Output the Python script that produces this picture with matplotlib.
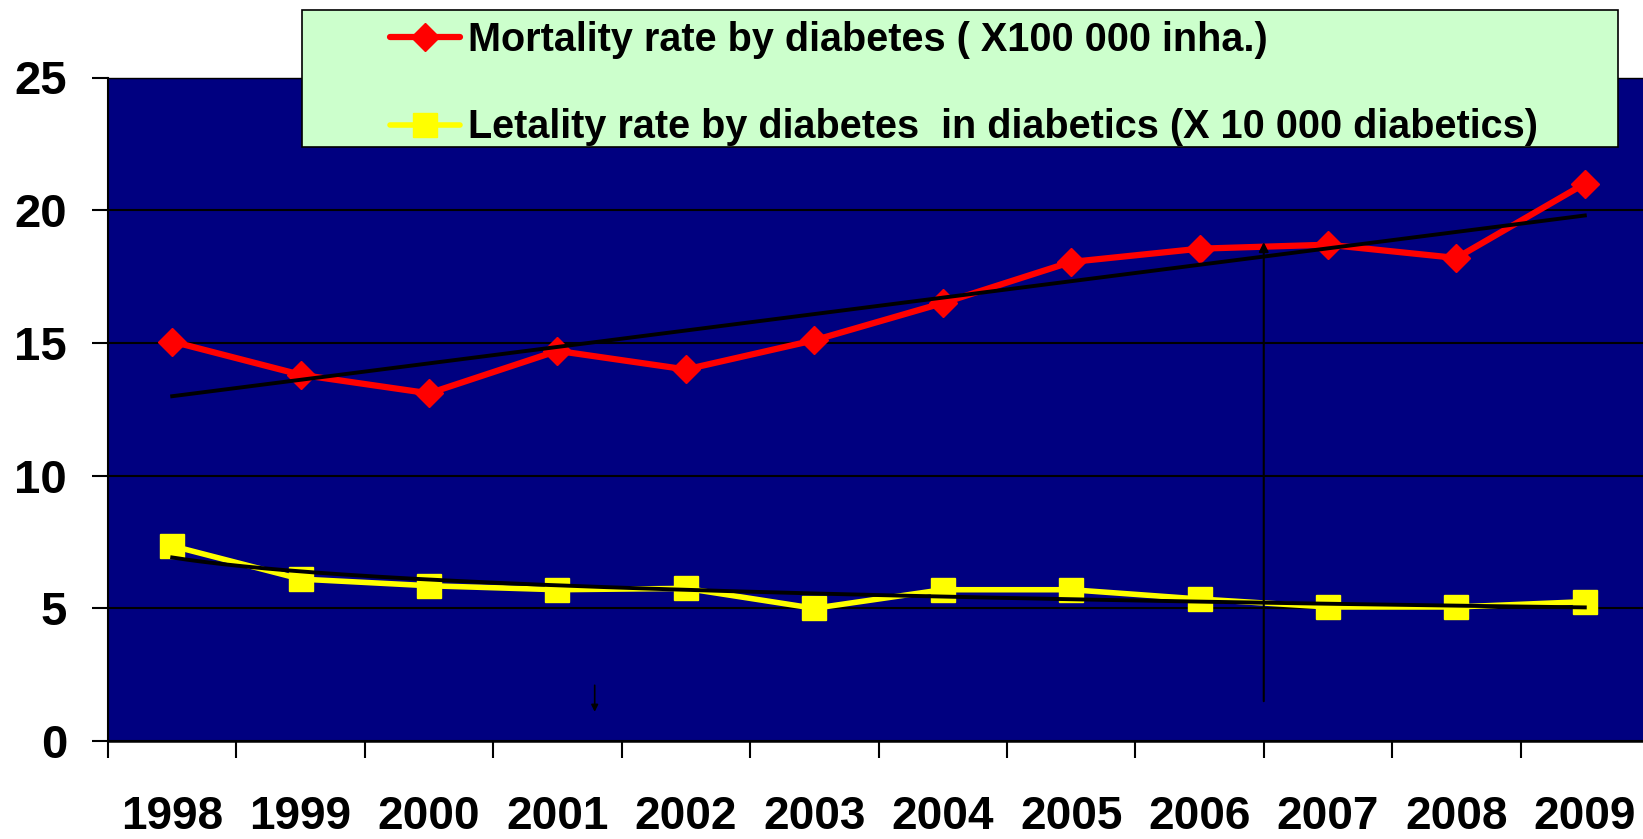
import numpy as np
import matplotlib
matplotlib.use("Agg")
import matplotlib.pyplot as plt
from matplotlib.patches import Rectangle

plt.rcParams['font.family'] = ['Liberation Sans', 'DejaVu Sans']
plt.rcParams['font.weight'] = 'bold'

years = ["1998", "1999", "2000", "2001", "2002", "2003",
         "2004", "2005", "2006", "2007", "2008", "2009"]
mortality = [15.05, 13.8, 13.1, 14.7, 14.0, 15.1, 16.5, 18.05, 18.55, 18.7, 18.2, 21.0]
letality = [7.35, 6.1, 5.85, 5.7, 5.75, 5.0, 5.7, 5.7, 5.35, 5.05, 5.05, 5.25]
label_mort = "Mortality rate by diabetes ( X100 000 inha.)"
label_let = "Letality rate by diabetes  in diabetics (X 10 000 diabetics)"

W, H = 1643, 839
fig = plt.figure(figsize=(W / 100, H / 100), dpi=100)
fig.patch.set_facecolor("white")

# plot area in pixels (right edge runs slightly past the image)
left, right, top, bottom = 108, 1649, 77.5, 741
ax = fig.add_axes([left / W, 1 - bottom / H, (right - left) / W, (bottom - top) / H])
ax.set_facecolor("#000080")

x = np.arange(len(years))

# trend lines: linear for mortality, logarithmic for letality
k, b = np.polyfit(x, mortality, 1)
trend_mort = k * x + b
lk, lb = np.polyfit(np.log(x + 1), letality, 1)
xs = np.linspace(0, len(years) - 1, 200)
trend_let = lk * np.log(xs + 1) + lb

l1, = ax.plot(x, mortality, color="#ff0000", lw=4.5, marker="D", ms=14,
              solid_capstyle="round", zorder=3, label=label_mort)
l2, = ax.plot(x, letality, color="#ffff00", lw=4.0, marker="s", ms=17.5,
              solid_capstyle="round", zorder=3, label=label_let)
ax.plot(x, trend_mort, color="black", lw=2.8, zorder=4)
ax.plot(xs, trend_let, color="black", lw=2.8, zorder=4)

# stray arrows in the original picture
ax.annotate("", xy=(8.5, 18.8), xytext=(8.5, 1.5),
            arrowprops=dict(arrowstyle="-|>", color="black", lw=1.5,
                            mutation_scale=14, shrinkA=0, shrinkB=0), zorder=5)
ax.annotate("", xy=(3.29, 1.1), xytext=(3.29, 2.1),
            arrowprops=dict(arrowstyle="-|>", color="black", lw=1.2,
                            mutation_scale=10, shrinkA=0, shrinkB=0), zorder=5)

ax.set_xlim(-0.5, len(years) - 0.5)
ax.set_ylim(0, 25)
ax.set_yticks([0, 5, 10, 15, 20, 25])
ax.yaxis.grid(True, color="black", lw=1.5)
ax.set_axisbelow(True)

ax.set_xticks(x)
ax.set_xticklabels(years)
ax.set_xticks(np.arange(-0.5, len(years), 1.0), minor=True)
ax.tick_params(axis="x", which="major", length=0, pad=39, labelsize=33)
ax.tick_params(axis="x", which="minor", length=12, width=1.5, direction="out")
ax.tick_params(axis="y", length=11.5, width=1.5, direction="out", pad=18, labelsize=34)

ax.spines["right"].set_visible(False)
ax.spines["top"].set_linewidth(1.0)
ax.spines["left"].set_linewidth(1.5)
ax.spines["bottom"].set_linewidth(1.8)

# legend box
box = Rectangle((302 / W, 1 - 147 / H), (1618 - 302) / W, (147 - 10) / H,
                transform=fig.transFigure, facecolor="#ccffcc", edgecolor="black",
                lw=1.2, zorder=4)
fig.add_artist(box)
leg = fig.legend(handles=[l1, l2], loc="upper left",
                 bbox_to_anchor=(390 / W, 1 - 21 / H), frameon=False,
                 fontsize=28.5, borderpad=0, borderaxespad=0, numpoints=1,
                 handlelength=1.77, handletextpad=0.2, labelspacing=1.25)
leg.set_zorder(5)

fig.savefig("out.png", dpi=100)
